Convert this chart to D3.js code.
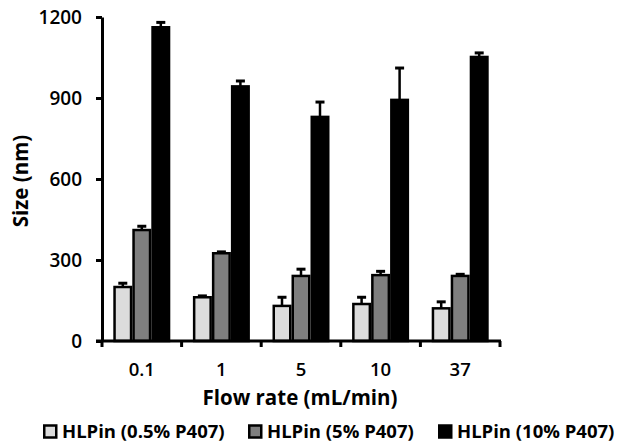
<!DOCTYPE html>
<html>
<head>
<meta charset="utf-8">
<script src="https://cdn.jsdelivr.net/npm/d3@7"></script>
<style>
  html, body { margin: 0; padding: 0; background: #fff; }
  svg { display: block; font-family: "Open Sans", sans-serif; }
</style>
</head>
<body>
<svg id="chart" width="623" height="444"></svg>
<script>
const categories = ["0.1", "1", "5", "10", "37"];
const seriesNames = ["HLPin (0.5% P407)", "HLPin (5% P407)", "HLPin (10% P407)"];
const seriesColors = ["#dcdcdc", "#7f7f7f", "#000000"];
const lowValues = [200, 162, 130, 137, 121];
const lowErrors = [14, 5, 32, 25, 24];
const midValues = [411, 325, 241, 244, 241];
const midErrors = [14, 5, 25, 14, 6];
const highValues = [1162, 943, 830, 893, 1052];
const highErrors = [18, 20, 55, 118, 15];
const yTicks = [0, 300, 600, 900, 1200];

const values = [lowValues, midValues, highValues];
const errors = [lowErrors, midErrors, highErrors];

(function () {
const svg = d3.select("#chart");
const mLeft = 102, mRight = 500, mTop = 17, mBottom = 341;

const x0 = d3.scaleBand().domain(categories).range([mLeft, mRight]).padding(0);
const groupW = 57;
const x1 = d3.scaleBand().domain(d3.range(3)).range([0, groupW]).padding(0);
const y = d3.scaleLinear().domain([0, 1200]).range([mBottom, mTop]);

// bars
categories.forEach((c, ci) => {
  const gx = x0(c) + (x0.bandwidth() - groupW) / 2;
  for (let s = 0; s < 3; s++) {
    const v = values[s][ci], e = errors[s][ci];
    const bx = gx + x1(s);
    const bw = x1.bandwidth();
    const cx = bx + bw / 2;
    svg.append("line")
      .attr("x1", cx).attr("x2", cx)
      .attr("y1", y(v)).attr("y2", y(v + e))
      .attr("stroke", "#000").attr("stroke-width", 2.5);
    svg.append("line")
      .attr("x1", cx - 4.5).attr("x2", cx + 4.5)
      .attr("y1", y(v + e)).attr("y2", y(v + e))
      .attr("stroke", "#000").attr("stroke-width", 3);
    svg.append("rect")
      .attr("x", bx + 1.25).attr("y", y(v))
      .attr("width", bw - 2.5).attr("height", y(0) - y(v))
      .attr("fill", seriesColors[s])
      .attr("stroke", "#000").attr("stroke-width", 2.5);
  }
});

// y axis
const yAxis = svg.append("g").attr("transform", `translate(${mLeft},0)`)
  .call(d3.axisLeft(y).tickValues(yTicks).tickSize(6).tickSizeOuter(0).tickFormat(d3.format("d")));
yAxis.select(".domain").attr("stroke", "#000").attr("stroke-width", 3);
yAxis.selectAll(".tick line").attr("stroke", "#000").attr("stroke-width", 3);
yAxis.selectAll(".tick text").attr("x", -20).attr("font-size", 19).attr("fill", "#000")
  .attr("font-family", "Open Sans, sans-serif").attr("font-weight", 600);

// x axis
const xAxis = svg.append("g").attr("transform", `translate(0,${mBottom})`);
xAxis.append("line").attr("x1", mLeft - 6).attr("x2", mRight + 1)
  .attr("y1", 0).attr("y2", 0).attr("stroke", "#000").attr("stroke-width", 3);
const boundaries = categories.map(c => x0(c)).concat([mRight]);
boundaries.forEach(bxv => {
  xAxis.append("line").attr("x1", bxv).attr("x2", bxv).attr("y1", 0).attr("y2", 6)
    .attr("stroke", "#000").attr("stroke-width", 3);
});
categories.forEach(c => {
  xAxis.append("text").attr("x", x0(c) + x0.bandwidth() / 2).attr("y", 35)
    .attr("text-anchor", "middle").attr("font-size", 18.5).attr("font-weight", 600)
    .text(c);
});

// axis titles
svg.append("text").attr("x", 300).attr("y", 405).attr("text-anchor", "middle")
  .attr("font-size", 20.5).attr("font-weight", "bold").text("Flow rate (mL/min)");
svg.append("text").attr("transform", "translate(28,181) rotate(-90)")
  .attr("text-anchor", "middle").attr("font-size", 20.5).attr("font-weight", "bold").text("Size (nm)");

// legend
const legendX = [43, 248, 438];
seriesNames.forEach((n, i) => {
  const g = svg.append("g").attr("transform", `translate(${legendX[i]},425)`);
  g.append("rect").attr("x", 1.25).attr("y", 0.5).attr("width", 12).attr("height", 12)
    .attr("fill", seriesColors[i]).attr("stroke", "#000").attr("stroke-width", 2.5);
  g.append("text").attr("x", 19).attr("y", 13).attr("font-size", 18.5)
    .attr("font-weight", "bold").text(n);
});
})();
</script>
</body>
</html>
